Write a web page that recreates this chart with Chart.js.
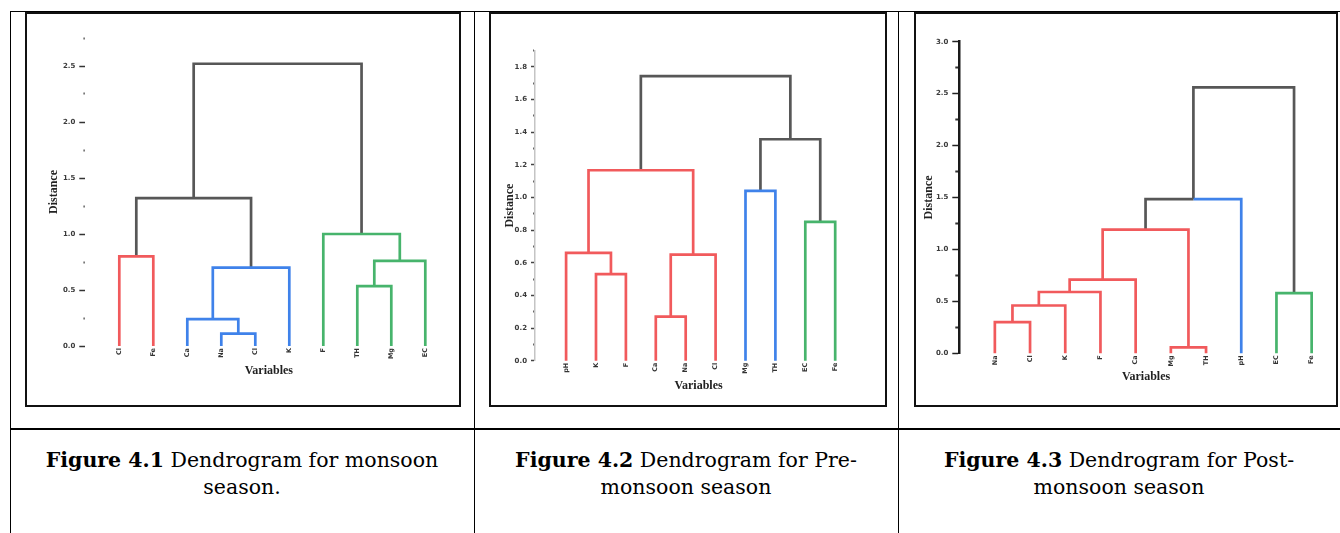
<!DOCTYPE html>
<html>
<head>
<meta charset="utf-8">
<script src="https://cdn.jsdelivr.net/npm/chart.js@4.4.1/dist/chart.umd.min.js"></script>
<style>
  html, body { margin: 0; padding: 0; background: #fff; }
  body { width: 1340px; height: 533px; position: relative; overflow: hidden; font-family: 'DejaVu Serif', serif; }
  .ln { position: absolute; background: #000; }
  .box { position: absolute; border: 2px solid #111; box-sizing: border-box; background: #fff; }
  .box canvas { position: absolute; left: 0; top: 0; }
  .cap { position: absolute; text-align: center; font-size: 20.5px; line-height: 27px; color: #000; }
</style>
</head>
<body>
<!-- table lines -->
<div class="ln" style="left:10px;top:11px;width:1330px;height:1px"></div>
<div class="ln" style="left:10px;top:428px;width:1330px;height:2px"></div>
<div class="ln" style="left:10px;top:11px;width:1px;height:522px"></div>
<div class="ln" style="left:474px;top:11px;width:1px;height:522px"></div>
<div class="ln" style="left:898px;top:11px;width:1px;height:522px"></div>

<div class="box" style="left:25px;top:12px;width:436px;height:395px"><canvas id="c1" width="432" height="391"></canvas></div>
<div class="box" style="left:489px;top:12px;width:398px;height:395px"><canvas id="c2" width="394" height="391"></canvas></div>
<div class="box" style="left:914px;top:12px;width:424px;height:395px"><canvas id="c3" width="420" height="391"></canvas></div>

<div class="cap" style="left:10px;width:464px;top:447px"><b>Figure 4.1</b> Dendrogram for monsoon<br>season.</div>
<div class="cap" style="left:474px;width:424px;top:447px"><b>Figure 4.2</b> Dendrogram for Pre-<br>monsoon season</div>
<div class="cap" style="left:898px;width:442px;top:447px"><b>Figure 4.3</b> Dendrogram for Post-<br>monsoon season</div>

<script>
// ---------------- DATA ----------------
// Figure 4.1 (monsoon)
const leafLabels1   = ['Cl', 'Fe', 'Ca', 'Na', 'Cl', 'K', 'F', 'TH', 'Mg', 'EC'];
const mergeLeft1    = [0, 3, 2, 12, 10, 7, 15, 6, 14];
const mergeRight1   = [1, 4, 11, 5, 13, 8, 9, 16, 17];
const mergeHeight1  = [0.80, 0.11, 0.24, 0.70, 1.32, 0.535, 0.76, 1.00, 2.52];
const yMajor1       = [0, 0.5, 1.0, 1.5, 2.0, 2.5];
const yTickLabels1  = ['0.0', '0.5', '1.0', '1.5', '2.0', '2.5'];
const yMinor1       = [0.25, 0.75, 1.25, 1.75, 2.25, 2.75];

// Figure 4.2 (pre-monsoon)
const leafLabels2   = ['pH', 'K', 'F', 'Ca', 'Na', 'Cl', 'Mg', 'TH', 'EC', 'Fe'];
const mergeLeft2    = [1, 0, 3, 12, 11, 6, 8, 15, 14];
const mergeRight2   = [2, 10, 4, 5, 13, 7, 9, 16, 17];
const mergeHeight2  = [0.53, 0.66, 0.27, 0.65, 1.166, 1.04, 0.85, 1.356, 1.743];
const yMajor2       = [0, 0.2, 0.4, 0.6, 0.8, 1.0, 1.2, 1.4, 1.6, 1.8];
const yTickLabels2  = ['0.0', '0.2', '0.4', '0.6', '0.8', '1.0', '1.2', '1.4', '1.6', '1.8'];
const yMinor2       = [0.1, 0.3, 0.5, 0.7, 0.9, 1.1, 1.3, 1.5, 1.7, 1.9];

// Figure 4.3 (post-monsoon)
const leafLabels3   = ['Na', 'Cl', 'K', 'F', 'Ca', 'Mg', 'TH', 'pH', 'EC', 'Fe'];
const mergeLeft3    = [0, 10, 11, 12, 5, 13, 15, 8, 16];
const mergeRight3   = [1, 2, 3, 4, 6, 14, 7, 9, 17];
const mergeHeight3  = [0.30, 0.46, 0.59, 0.71, 0.058, 1.19, 1.485, 0.58, 2.56];
const yMajor3       = [0, 0.5, 1.0, 1.5, 2.0, 2.5, 3.0];
const yTickLabels3  = ['0.0', '0.5', '1.0', '1.5', '2.0', '2.5', '3.0'];
const yMinor3       = [0.25, 0.75, 1.25, 1.75, 2.25, 2.75];

// ---------------- STYLES ----------------
const RED = '#f15a5c', BLUE = '#3f82ea', GREEN = '#47b46c', GRAY = '#575757';
const linkColors1 = [RED, BLUE, BLUE, BLUE, GRAY, GREEN, GREEN, GREEN, GRAY];
const linkColors2 = [RED, RED, RED, RED, RED, BLUE, GREEN, GRAY, GRAY];
const linkColors3 = [RED, RED, RED, RED, RED, RED, [GRAY, BLUE], GREEN, GRAY];

// build U-shaped link segments from the merge tables
function buildLinks(nLeaves, left, right, height, colors) {
  const nx = [], ny = [];
  for (let i = 0; i < nLeaves; i++) { nx.push(i); ny.push(0); }
  const sets = [];
  for (let k = 0; k < left.length; k++) {
    const a = left[k], b = right[k], h = height[k];
    const xa = nx[a], xb = nx[b], xm = (xa + xb) / 2;
    const c = colors[k];
    const cl = Array.isArray(c) ? c[0] : c, cr = Array.isArray(c) ? c[1] : c;
    if (cl === cr) {
      sets.push({ data: [{x: xa, y: ny[a]}, {x: xa, y: h}, {x: xb, y: h}, {x: xb, y: ny[b]}], color: cl });
    } else {
      sets.push({ data: [{x: xa, y: ny[a]}, {x: xa, y: h}, {x: xm, y: h}], color: cl });
      sets.push({ data: [{x: xm, y: h}, {x: xb, y: h}, {x: xb, y: ny[b]}], color: cr });
    }
    nx.push(xm); ny.push(h);
  }
  return sets.map(s => ({
    data: s.data, borderColor: s.color, backgroundColor: s.color, showLine: true,
    borderWidth: 2.7, pointRadius: 0, pointHoverRadius: 0, tension: 0, clip: false,
    borderJoinStyle: 'miter', borderCapStyle: 'butt'
  }));
}

function makeChart(id, cfg) {
  const inner = cfg.inner; // page coords of canvas
  const majors = cfg.yMajor, labels = cfg.yLabels, minors = cfg.yMinor;
  const isMajor = v => majors.some(m => Math.abs(m - v) < 1e-6);
  const xr = cfg.plotLeft + (cfg.xMax - cfg.xMin) * cfg.spacing;
  new Chart(document.getElementById(id), {
    type: 'scatter',
    data: { datasets: buildLinks(cfg.leaves.length, cfg.left, cfg.right, cfg.height, cfg.colors) },
    options: {
      responsive: false, animation: false, devicePixelRatio: 1,
      events: [],
      layout: { padding: { left: 0, top: cfg.plotTop - inner.top, right: inner.right - xr, bottom: 0 } },
      plugins: { legend: { display: false }, tooltip: { enabled: false } },
      scales: {
        x: {
          type: 'linear', min: cfg.xMin, max: cfg.xMax,
          afterFit: s => { s.height = inner.bottom - cfg.plotBottom; },
          afterBuildTicks: s => { s.ticks = cfg.leaves.map((_, i) => ({ value: i })); },
          grid: { display: false, drawTicks: false },
          border: { display: false },
          ticks: {
            autoSkip: false, maxRotation: 90, minRotation: 90, padding: 2,
            font: { family: 'DejaVu Sans', size: 6.5, weight: 'bold' }, color: '#333',
            callback: v => cfg.leaves[Math.round(v)]
          },
          title: {
            display: true, text: 'Variables', color: '#222',
            font: { family: 'Liberation Serif', size: 12, weight: 'bold' },
            padding: { top: 0, bottom: cfg.xTitlePad }
          }
        },
        y: {
          type: 'linear', min: cfg.yMin, max: cfg.yMax,
          afterFit: s => { s.width = cfg.plotLeft - inner.left; },
          afterBuildTicks: s => {
            s.ticks = majors.concat(minors).sort((a, b) => a - b).map(v => ({ value: v }));
          },
          grid: {
            drawOnChartArea: false, drawTicks: true, tickLength: cfg.tickLen,
            tickWidth: ctx => isMajor(ctx.tick.value) ? cfg.majorTickW : cfg.minorTickW,
            tickColor: ctx => isMajor(ctx.tick.value) ? cfg.majorTickC : cfg.minorTickC,
            tickBorderDash: ctx => isMajor(ctx.tick.value) ? [] : cfg.minorDash
          },
          border: cfg.border,
          ticks: {
            autoSkip: false, padding: 4,
            font: { family: 'DejaVu Sans', size: 7, weight: 'bold' }, color: '#3a3a3a',
            callback: v => { const i = majors.findIndex(m => Math.abs(m - v) < 1e-6); return i >= 0 ? labels[i] : ''; }
          },
          title: {
            display: true, text: 'Distance', color: '#222',
            font: { family: 'Liberation Serif', size: 12, weight: 'bold' },
            padding: { top: cfg.yTitlePad, bottom: 0 }
          }
        }
      }
    }
  });
}

makeChart('c1', {
  inner: { left: 27, top: 14, right: 459, bottom: 405 },
  plotLeft: 85.3, plotTop: 38, plotBottom: 346, spacing: 34,
  xMin: -1, xMax: 9.8, yMin: 0, yMax: 2.75,
  leaves: leafLabels1, left: mergeLeft1, right: mergeRight1, height: mergeHeight1, colors: linkColors1,
  yMajor: yMajor1, yLabels: yTickLabels1, yMinor: yMinor1,
  tickLen: 6, majorTickW: 1.5, minorTickW: 2, majorTickC: '#333', minorTickC: '#777', minorDash: [0, 4, 2, 40],
  border: { display: false },
  xTitlePad: 27, yTitlePad: 20
});

makeChart('c2', {
  inner: { left: 491, top: 14, right: 885, bottom: 405 },
  plotLeft: 535, plotTop: 50.4, plotBottom: 360.7, spacing: 29.9,
  xMin: -1.04, xMax: 9.9, yMin: 0, yMax: 1.9,
  leaves: leafLabels2, left: mergeLeft2, right: mergeRight2, height: mergeHeight2, colors: linkColors2,
  yMajor: yMajor2, yLabels: yTickLabels2, yMinor: yMinor2,
  tickLen: 4, majorTickW: 1.5, minorTickW: 2, majorTickC: '#444', minorTickC: '#666', minorDash: [0, 2, 2, 40],
  border: { display: true, color: '#c4c4c4', width: 1.5 },
  xTitlePad: 12, yTitlePad: 12
});

makeChart('c3', {
  inner: { left: 916, top: 14, right: 1336, bottom: 405 },
  plotLeft: 959.3, plotTop: 41.7, plotBottom: 353.3, spacing: 35.2,
  xMin: -1.01, xMax: 9.6, yMin: 0, yMax: 3.0,
  leaves: leafLabels3, left: mergeLeft3, right: mergeRight3, height: mergeHeight3, colors: linkColors3,
  yMajor: yMajor3, yLabels: yTickLabels3, yMinor: yMinor3,
  tickLen: 7, majorTickW: 1.5, minorTickW: 2, majorTickC: '#222', minorTickC: '#333', minorDash: [0, 3, 4, 40],
  border: { display: true, color: '#1a1a1a', width: 2.5 },
  xTitlePad: 21, yTitlePad: 6
});
</script>
</body>
</html>
